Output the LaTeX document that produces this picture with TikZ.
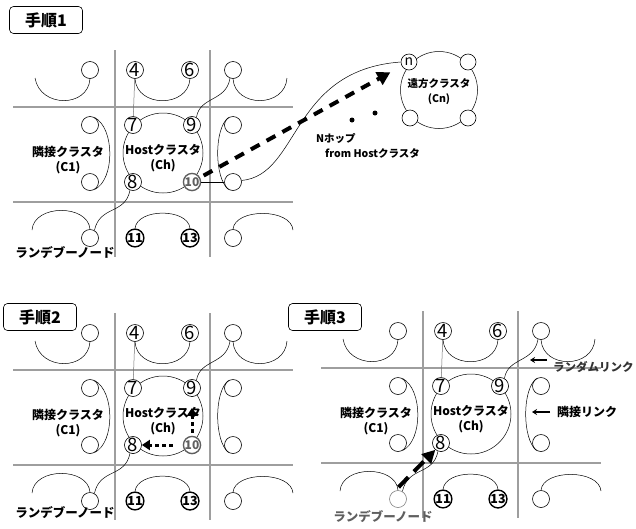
\documentclass[tikz,border=0pt]{standalone}
\usepackage{fontspec}
\setmainfont{Noto Sans CJK JP}
\usetikzlibrary{arrows.meta,calc}
\definecolor{gridgrey}{RGB}{158,158,158}
\definecolor{tengrey}{RGB}{95,95,95}
\definecolor{linkgrey}{RGB}{110,110,110}
% one 3x3 block of clusters: #1 = name prefix, #2 = extra style of the rendezvous peer
\newcommand{\clusterbase}[2]{%
  % cell borders
  \foreach \x in {115,210}{
    \draw[gridline] (\x,50) -- (\x,257);
  }
  \foreach \y in {107,202}{
    \draw[gridline] (13,\y) -- (293,\y);
  }
  % host cluster and labels
  \node[hostring] (#1-host) at (163,153) {};
  \node[clusterlbl] (#1-hostlbl) at (163,158) {Hostクラスタ\\(Ch)};
  \node[clusterlbl] (#1-c1lbl) at (68,160) {隣接クラスタ\\(C1)};
  % peers
  \node[peer] (#1-tl) at (90,70) {};
  \node[numpeer] (#1-4) at (135,70) {4};
  \node[numpeer] (#1-6) at (190,70) {6};
  \node[peer] (#1-tr) at (233,70) {};
  \node[peer] (#1-ml1) at (90,125) {};
  \node[peer] (#1-ml2) at (90,182) {};
  \node[numpeer] (#1-7) at (133,125) {7};
  \node[numpeer] (#1-9) at (192,125) {9};
  \node[numpeer] (#1-8) at (133,182) {8};
  \node[peer] (#1-mr1) at (233,125) {};
  \node[peer] (#1-mr2) at (233,182) {};
  \node[peer,#2] (#1-bl) at (90,238) {};
  \node[boldpeer] (#1-11) at (135,238) {11};
  \node[boldpeer] (#1-13) at (190,238) {13};
  \node[peer] (#1-br) at (233,238) {};
  \coordinate (#1-tlend) at (35,78);
  \coordinate (#1-trend) at (287,78);
  \coordinate (#1-blend) at (32,230);
  \coordinate (#1-brend) at (293,230);
  % links
  \draw[link,linkgrey] (#1-4) -- (#1-7);
  \draw[link] (#1-tlend) .. controls (40,108) and (88,108) .. (#1-tl.south);
  \draw[link] (#1-4.south) .. controls (137,108) and (188,108) .. (#1-6.south);
  \draw[link] (#1-tr.south) .. controls (235,108) and (285,108) .. (#1-trend);
  \draw[link] (#1-tr.250) .. controls (226,102) and (200,96) .. (#1-9.60);
  \draw[link] (#1-ml1.60) .. controls (115,128) and (115,180) .. (#1-ml2.-60);
  \draw[link] (#1-mr1.120) .. controls (214,128) and (214,178) .. (#1-mr2.240);
  \draw[link] (#1-blend) .. controls (34,204) and (88,204) .. (#1-bl.north);
  \draw[link] (#1-bl.60) .. controls (100,205) and (125,215) .. (#1-8.250);
  \draw[link] (#1-11.north) .. controls (137,208) and (188,208) .. (#1-13.north);
  \draw[link] (#1-br.north) .. controls (235,208) and (291,208) .. (#1-brend);
}

\begin{document}
\begin{tikzpicture}[x=1pt,y=-1pt,
    gridline/.style={gridgrey, line width=1.3pt},
    link/.style={black, line width=0.5pt},
    peer/.style={circle, draw, fill=white, line width=0.6pt, minimum size=17pt, inner sep=0pt},
    numpeer/.style={peer, font=\fontsize{18.5}{18.5}\selectfont},
    boldpeer/.style={peer, line width=1.4pt, minimum size=16pt, font=\bfseries\fontsize{12.5}{12.5}\selectfont},
    grouppeer/.style={peer, draw=tengrey, line width=1.4pt, text=tengrey, font=\bfseries\fontsize{12}{12}\selectfont},
    hostring/.style={circle, draw, line width=0.5pt, minimum size=80pt, inner sep=0pt},
    clusterlbl/.style={font=\bfseries\fontsize{12}{15}\selectfont, align=center, inner sep=0pt},
    steptitle/.style={draw, fill=white, rounded corners=4pt, line width=0.6pt, minimum width=73pt, minimum height=27pt, font=\bfseries\fontsize{16}{16}\selectfont},
    rdvlbl/.style={font=\bfseries\fontsize{12.5}{12.5}\selectfont, inner sep=0pt},
    hoparrow/.style={line width=4pt, dash pattern=on 10pt off 8pt, -{Triangle[length=13pt,width=14pt]}},
    steparrow/.style={line width=3pt, dash pattern=on 4pt off 3pt, -{Triangle[length=8pt,width=10pt]}},
    joinarrow/.style={line width=4pt, dash pattern=on 14pt off 8pt, -{Triangle[length=13pt,width=13pt]}},
    pointer/.style={line width=1.3pt, -{Stealth[length=5pt,width=6pt]}},
  ]
  \useasboundingbox (0,0) rectangle (636,528);

  % Step 1: N hops to the far cluster
  \begin{scope}
    \clusterbase{a}{}
    \node[grouppeer] (a-10) at (192,182) {10};
    \draw[link] (a-10) -- (a-mr2);
    \node[hostring, minimum size=77pt] (a-far) at (439,90) {};
    \node[clusterlbl, font=\bfseries\fontsize{10.5}{15}\selectfont] (a-farlbl) at (439,92) {遠方クラスタ\\(Cn)};
    \node[peer, minimum size=16pt, font=\fontsize{14}{14}\selectfont] (a-n) at (409,62) {n};
    \node[peer, minimum size=16pt] (a-f2) at (468,62) {};
    \node[peer, minimum size=16pt] (a-f3) at (410,118) {};
    \node[peer, minimum size=16pt] (a-f4) at (468,118) {};
    \draw[link] (a-mr2.10) .. controls (300,175) and (290,70) .. (a-n.west);
    \draw[hoparrow, shorten <=4pt, shorten >=13pt] (a-10) -- (a-n);
    \fill (352,120) circle (2.5pt);
    \fill (375,113) circle (2.5pt);
    \node[anchor=north west, align=left, inner sep=0pt, font=\bfseries\fontsize{10.5}{15}\selectfont] (a-hop)
      at (316,133) {Nホップ\\\hspace*{9pt}from Hostクラスタ};
    \node[rdvlbl] (a-rdv) at (65,253) {ランデブーノード};
  \end{scope}
  \node[steptitle] (a-title) at (46,20) {手順1};

  % Step 2: walk inside the host cluster
  \begin{scope}[shift={(0,263)}]
    \clusterbase{b}{}
    \node[grouppeer] (b-10) at (192,182) {10};
    \draw[steparrow, shorten <=3pt, shorten >=11pt] (b-10) -- (b-9);
    \draw[steparrow, shorten <=10pt] (b-10) -- (b-8);
    \node[rdvlbl] (b-rdv) at (65,250) {ランデブーノード};
  \end{scope}
  \node[steptitle] (b-title) at (40,317) {手順2};

  % Step 3: the rendezvous node joins through 8
  \begin{scope}[shift={(308,261)}]
    \clusterbase{c}{draw=gray}
    \draw[joinarrow, shorten <=5pt] (c-bl.110) -- (c-8.230);
    \node[rdvlbl, text=tengrey] (c-rdv) at (75,256) {ランデブーノード};
    \node[anchor=west, inner sep=0pt, text=black!80, font=\bfseries\fontsize{11.5}{12}\selectfont] (c-rndlbl) at (245,106) {ランダムリンク};
    \coordinate (c-rndtip) at (222,99);
    \draw[pointer] ([xshift=-6pt,yshift=7pt]c-rndlbl.west) -- (c-rndtip);
    \node[anchor=west, inner sep=0pt, font=\bfseries\fontsize{12}{12}\selectfont] (c-adjlbl) at (249,151) {隣接リンク};
    \coordinate (c-adjtip) at (224,151);
    \draw[pointer] ([xshift=-7pt]c-adjlbl.west) -- (c-adjtip);
  \end{scope}
  \node[steptitle] (c-title) at (325,317) {手順3};
\end{tikzpicture}
\end{document}
